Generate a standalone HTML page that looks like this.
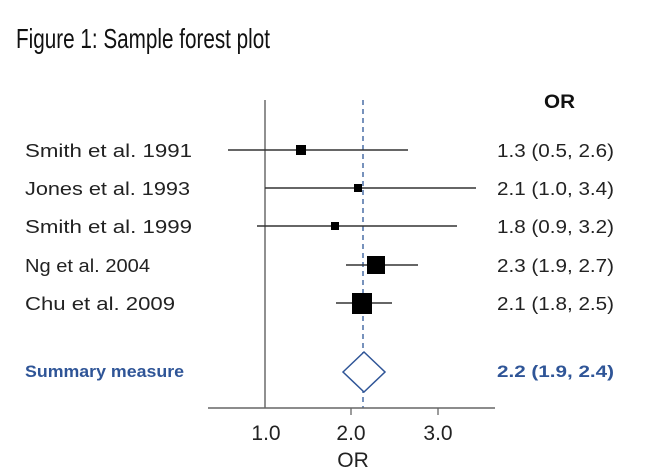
<!DOCTYPE html>
<html><head><style>
body{margin:0;background:#fff;}
svg{display:block;}
</style></head><body>
<svg width="653" height="475" xmlns="http://www.w3.org/2000/svg" font-family="Liberation Sans, sans-serif">
<text x="16" y="48" font-size="28" fill="#111" textLength="254" lengthAdjust="spacingAndGlyphs">Figure 1: Sample forest plot</text>
<text x="544" y="108" font-size="19" font-weight="bold" fill="#111" textLength="31" lengthAdjust="spacingAndGlyphs">OR</text>
<g font-size="18" fill="#222">
<text x="25" y="157" textLength="167" lengthAdjust="spacingAndGlyphs">Smith et al. 1991</text>
<text x="25" y="195" textLength="165" lengthAdjust="spacingAndGlyphs">Jones et al. 1993</text>
<text x="25" y="233" textLength="167" lengthAdjust="spacingAndGlyphs">Smith et al. 1999</text>
<text x="25" y="272" textLength="125" lengthAdjust="spacingAndGlyphs">Ng et al. 2004</text>
<text x="25" y="310" textLength="150" lengthAdjust="spacingAndGlyphs">Chu et al. 2009</text>
<text x="497" y="157" textLength="117" lengthAdjust="spacingAndGlyphs">1.3 (0.5, 2.6)</text>
<text x="497" y="195" textLength="117" lengthAdjust="spacingAndGlyphs">2.1 (1.0, 3.4)</text>
<text x="497" y="233" textLength="117" lengthAdjust="spacingAndGlyphs">1.8 (0.9, 3.2)</text>
<text x="497" y="272" textLength="117" lengthAdjust="spacingAndGlyphs">2.3 (1.9, 2.7)</text>
<text x="497" y="310" textLength="117" lengthAdjust="spacingAndGlyphs">2.1 (1.8, 2.5)</text>
</g>
<text x="25" y="377" font-size="17" font-weight="bold" fill="#2f5597" textLength="159" lengthAdjust="spacingAndGlyphs">Summary measure</text>
<text x="497" y="377" font-size="17" font-weight="bold" fill="#2f5597" textLength="117" lengthAdjust="spacingAndGlyphs">2.2 (1.9, 2.4)</text>
<line x1="265" y1="100" x2="265" y2="408" stroke="#555" stroke-width="1.3"/>
<line x1="363" y1="100" x2="363" y2="408" stroke="#4a6fa5" stroke-width="1.5" stroke-dasharray="5,4"/>
<line x1="208" y1="408" x2="495" y2="408" stroke="#666" stroke-width="1.5"/>
<line x1="351" y1="408" x2="351" y2="415" stroke="#666" stroke-width="1.3"/>
<line x1="438" y1="408" x2="438" y2="415" stroke="#666" stroke-width="1.3"/>
<g stroke="#333" stroke-width="1.5">
<line x1="228" y1="150" x2="408" y2="150"/>
<line x1="265" y1="188" x2="476" y2="188"/>
<line x1="257" y1="226" x2="457" y2="226"/>
<line x1="346" y1="265" x2="418" y2="265"/>
<line x1="336" y1="303" x2="392" y2="303"/>
</g>
<rect x="296" y="145" width="10" height="10" fill="#000"/>
<rect x="354" y="184" width="8" height="8" fill="#000"/>
<rect x="331" y="222" width="8" height="8" fill="#000"/>
<rect x="367" y="256" width="18" height="18" fill="#000"/>
<rect x="352" y="293" width="20" height="21" fill="#000"/>
<polygon points="343,372 364,352 385,372 364,392" fill="#fff" stroke="#2f5597" stroke-width="1.5"/>
<g font-size="21" fill="#222" text-anchor="middle">
<text x="266" y="440">1.0</text>
<text x="351" y="440">2.0</text>
<text x="438" y="440">3.0</text>
<text x="353" y="467">OR</text>
</g>
</svg>
</body></html>
